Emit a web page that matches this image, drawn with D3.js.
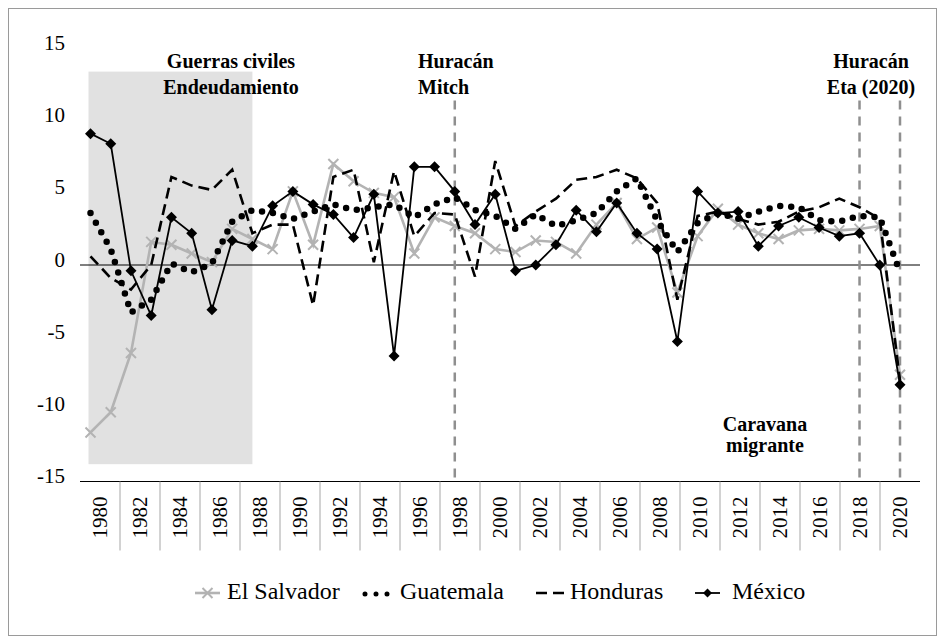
<!DOCTYPE html>
<html>
<head>
<meta charset="utf-8">
<script src="https://cdn.jsdelivr.net/npm/d3@7"></script>
<style>
  body { margin: 0; background: #fff; }
  svg text { font-family: "Liberation Serif", "Times New Roman", serif; fill: #000; }
</style>
</head>
<body>
<script>
// Growth series (annual %, 1980-2020)
var years = d3.range(1980, 2021);
var tickYears = years.filter(function(d) { return d % 2 === 0; });
var yTicks = [-15, -10, -5, 0, 5, 10, 15];

var elSalvador = [-11.6, -10.2, -6.1, 1.6, 1.4, 0.8, 0.2, 2.5, 1.8, 1.1,
                  5.1, 1.4, 7.0, 5.8, 5.0, 4.7, 0.8, 3.3, 2.7, 2.2,
                  1.1, 0.9, 1.7, 1.6, 0.8, 2.8, 4.3, 1.8, 2.6, -1.9,
                  2.0, 3.9, 2.8, 2.2, 1.8, 2.4, 2.5, 2.4, 2.5, 2.7,
                  -7.6];
var guatemala = [3.6, 1.1, -3.3, -2.4, 0.1, -0.5, 0.1, 3.0, 3.8, 3.6,
                 3.2, 3.7, 4.2, 3.8, 4.0, 4.2, 3.3, 4.2, 4.7, 3.8,
                 3.4, 2.5, 3.5, 2.7, 3.1, 3.6, 5.1, 6.0, 3.1, 0.9,
                 2.9, 3.6, 3.2, 3.7, 4.1, 4.0, 3.1, 3.0, 3.4, 3.3,
                 -0.5];
var honduras = [0.6, -0.9, -1.7, 0.0, 6.1, 5.5, 5.2, 6.6, 2.2, 2.8,
                2.8, -2.8, 6.1, 6.6, 0.2, 6.5, 2.0, 3.6, 3.5, -0.8,
                7.2, 2.7, 3.7, 4.6, 5.9, 6.1, 6.6, 6.0, 4.3, -2.4,
                3.4, 3.7, 3.2, 2.8, 3.0, 3.7, 4.0, 4.6, 4.0, 3.2,
                -8.0];
var mexico = [9.1, 8.4, -0.4, -3.5, 3.3, 2.2, -3.1, 1.7, 1.3, 4.1,
              5.1, 4.2, 3.5, 1.9, 4.9, -6.3, 6.8, 6.8, 5.1, 2.8,
              4.9, -0.4, 0.0, 1.4, 3.8, 2.3, 4.3, 2.2, 1.1, -5.3,
              5.1, 3.6, 3.7, 1.3, 2.7, 3.3, 2.6, 2.0, 2.2, 0.0,
              -8.3];

var seriesNames = ["El Salvador", "Guatemala", "Honduras", "México"];
var eventYears = [1998, 2018, 2020];
var shadeYears = [1980, 1988];

var serif = "'Liberation Serif', 'Times New Roman', serif";
var width = 945, height = 644;
var svg = d3.select("body").append("svg")
  .attr("width", width)
  .attr("height", height)
  .attr("font-family", serif);

// outer frame
svg.append("rect")
  .attr("x", 8.5).attr("y", 8.5)
  .attr("width", 928).attr("height", 627)
  .attr("fill", "#fff")
  .attr("stroke", "#9a9a9a");

// scales
var x = d3.scalePoint().domain(years).range([90.5, 900]);
var xb = d3.scaleBand().domain(tickYears).range([80, 920]);
var y = d3.scaleLinear().domain([-15, 15]).range([481.5, 48.5]);

// shaded period
svg.append("rect")
  .attr("x", x(shadeYears[0]) - 2)
  .attr("y", y(13.4))
  .attr("width", x(shadeYears[1]) - x(shadeYears[0]) + 2)
  .attr("height", y(-13.8) - y(13.4))
  .attr("fill", "#e1e1e1");

// y labels (baseline sits on the value)
var yAxis = svg.append("g")
  .attr("transform", "translate(65,0)")
  .call(d3.axisLeft(y).tickValues(yTicks).tickSize(0).tickPadding(0)
    .tickFormat(function(d) { return String(d); }));
yAxis.attr("font-family", serif).attr("font-size", 21);
yAxis.select(".domain").remove();
yAxis.selectAll("text")
  .attr("dy", "0.05em")
  .style("font-size", "21px")
  .style("font-family", serif);

// zero line
svg.append("line")
  .attr("x1", 80).attr("x2", 920)
  .attr("y1", y(0)).attr("y2", y(0))
  .attr("stroke", "#000").attr("stroke-width", 1);

// category axis
var xAxis = svg.append("g")
  .attr("transform", "translate(0," + y(-15) + ")")
  .call(d3.axisBottom(xb).tickSize(0));
xAxis.attr("font-family", serif).attr("font-size", 21);
xAxis.select(".domain").attr("d", "M80,0H920").attr("stroke", "#000");
xAxis.selectAll("text")
  .attr("transform", "rotate(-90)")
  .attr("text-anchor", "end")
  .attr("x", -15).attr("y", 0)
  .attr("dy", "0.35em")
  .style("font-size", "21px")
  .style("font-family", serif);

// separators between year pairs
svg.append("g").selectAll("line")
  .data(tickYears.slice(1))
  .enter().append("line")
  .attr("x1", function(d) { return xb(d); })
  .attr("x2", function(d) { return xb(d); })
  .attr("y1", y(-15)).attr("y2", y(-15) + 69)
  .attr("stroke", "#a6a6a6").attr("stroke-width", 1);

// event lines
svg.append("g").selectAll("line")
  .data(eventYears)
  .enter().append("line")
  .attr("x1", function(d) { return x(d); })
  .attr("x2", function(d) { return x(d); })
  .attr("y1", y(11.4)).attr("y2", y(-15))
  .attr("stroke", "#8f8f8f")
  .attr("stroke-width", 2.5)
  .style("stroke-dasharray", "9,7");

var line = d3.line()
  .x(function(d, i) { return x(years[i]); })
  .y(function(d) { return y(d); });

var xMark = "M-5,-5L5,5M-5,5L5,-5";
var diamond = "M0,-5.5L5.5,0L0,5.5L-5.5,0Z";

// El Salvador
svg.append("path")
  .attr("d", line(elSalvador))
  .attr("fill", "none")
  .attr("stroke", "#b3b3b3")
  .attr("stroke-width", 2.6);
svg.append("g").selectAll("path")
  .data(elSalvador)
  .enter().append("path")
  .attr("transform", function(d, i) { return "translate(" + x(years[i]) + "," + y(d) + ")"; })
  .attr("d", xMark)
  .attr("stroke", "#b3b3b3")
  .attr("stroke-width", 2);

// Guatemala (round dots)
svg.append("path")
  .attr("d", line(guatemala))
  .attr("fill", "none")
  .attr("stroke", "#000")
  .attr("stroke-width", 6.5)
  .attr("stroke-linecap", "round")
  .style("stroke-dasharray", "0,11");

// Honduras (long dash)
svg.append("path")
  .attr("d", line(honduras))
  .attr("fill", "none")
  .attr("stroke", "#000")
  .attr("stroke-width", 2.6)
  .style("stroke-dasharray", "11,6");

// Mexico
svg.append("path")
  .attr("d", line(mexico))
  .attr("fill", "none")
  .attr("stroke", "#000")
  .attr("stroke-width", 1.8);
svg.append("g").selectAll("path")
  .data(mexico)
  .enter().append("path")
  .attr("transform", function(d, i) { return "translate(" + x(years[i]) + "," + y(d) + ")"; })
  .attr("d", diamond)
  .attr("fill", "#000");

// annotations
function note(lines, px, py, anchor, gap) {
  var t = svg.append("text")
    .attr("text-anchor", anchor)
    .style("font-family", serif)
    .style("font-size", "20px")
    .style("font-weight", "bold");
  lines.forEach(function(s, i) {
    t.append("tspan").attr("x", px).attr("y", py + i * gap).text(s);
  });
}
note(["Guerras civiles", "Endeudamiento"], 231, 68, "middle", 26);
note(["Huracán", "Mitch"], 418, 68, "start", 26);
note(["Huracán", "Eta (2020)"], 871, 68, "middle", 26);
note(["Caravana", "migrante"], 765, 431, "middle", 21);

// legend
var legY = 593;
var legSym = [195, 363, 536, 695];
var legTxt = [227, 400, 570, 732];
var leg = svg.append("g");

leg.append("line")
  .attr("x1", legSym[0]).attr("x2", legSym[0] + 25)
  .attr("y1", legY).attr("y2", legY)
  .attr("stroke", "#b3b3b3").attr("stroke-width", 2.6);
leg.append("path")
  .attr("transform", "translate(" + (legSym[0] + 12.5) + "," + legY + ")")
  .attr("d", xMark)
  .attr("stroke", "#b3b3b3").attr("stroke-width", 2);

leg.append("line")
  .attr("x1", legSym[1] + 2).attr("x2", legSym[1] + 25)
  .attr("y1", legY + 1).attr("y2", legY + 1)
  .attr("stroke", "#000").attr("stroke-width", 5)
  .attr("stroke-linecap", "round")
  .style("stroke-dasharray", "0,11");

leg.append("line")
  .attr("x1", legSym[2]).attr("x2", legSym[2] + 30)
  .attr("y1", legY).attr("y2", legY)
  .attr("stroke", "#000").attr("stroke-width", 2.6)
  .style("stroke-dasharray", "11,6");

leg.append("line")
  .attr("x1", legSym[3]).attr("x2", legSym[3] + 25)
  .attr("y1", legY).attr("y2", legY)
  .attr("stroke", "#000").attr("stroke-width", 1.8);
leg.append("path")
  .attr("transform", "translate(" + (legSym[3] + 12.5) + "," + legY + ")")
  .attr("d", "M0,-4.5L4.5,0L0,4.5L-4.5,0Z")
  .attr("fill", "#000");

leg.selectAll("text")
  .data(seriesNames)
  .enter().append("text")
  .attr("x", function(d, i) { return legTxt[i]; })
  .attr("y", legY + 6)
  .style("font-family", serif)
  .style("font-size", "24px")
  .text(function(d) { return d; });
</script>
</body>
</html>
